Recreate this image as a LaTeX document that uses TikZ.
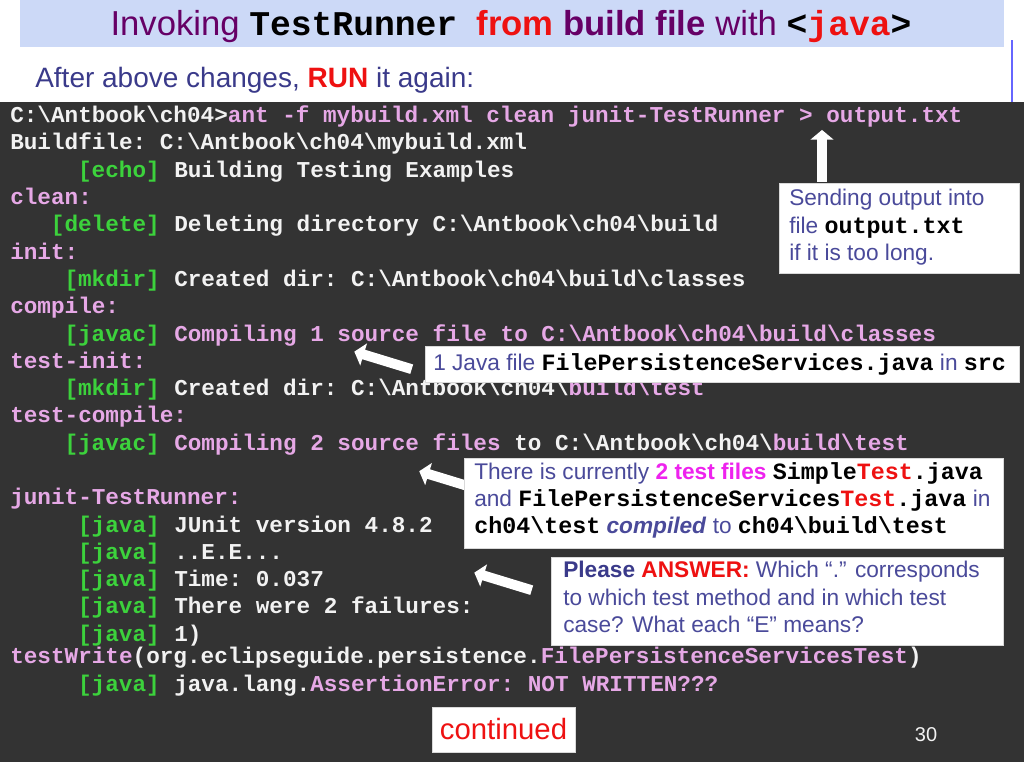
\documentclass[tikz,border=0pt]{standalone}
\usepackage{fontspec}
\setmainfont{Liberation Sans}
\setmonofont{Liberation Mono}[BoldFont={Liberation Mono Bold}]
\usetikzlibrary{shapes.arrows}
\definecolor{termbg}{HTML}{333333}
\definecolor{tpink}{HTML}{E6A8E6}
\definecolor{tgreen}{HTML}{3CD23C}
\definecolor{twhite}{HTML}{F2F2F2}
\definecolor{ttl}{HTML}{CCD9F7}
\definecolor{purp}{HTML}{660066}
\definecolor{blu}{HTML}{4A4A9A}
\definecolor{nav}{HTML}{3A3A8A}
\definecolor{rd}{HTML}{EE1111}
\definecolor{mag}{HTML}{EE22EE}
\newcommand{\bs}{\textbackslash}
\newcommand{\mt}[1]{{\ttfamily\bfseries #1}}
\newcommand{\bm}[1]{{\fontsize{17.5}{20}\ttfamily\bfseries\color{black}#1}}
\begin{document}
\begin{tikzpicture}[x=0.75pt,y=-0.75pt,
  ln/.style={anchor=base west,inner sep=0,font=\fontsize{17}{20}\ttfamily\bfseries,text=twhite},
  tag/.style={anchor=base east,inner sep=0,font=\fontsize{17}{20}\ttfamily\bfseries,text=tgreen},
  wbox/.style={fill=white,draw=white!85!black,line width=0.8pt,anchor=north west,inner sep=0},
  btext/.style={anchor=north west,align=left,inner sep=0,font=\fontsize{17}{20.5}\selectfont,text=blu},
  barrow/.style={single arrow,fill=white,draw=none,minimum height=#1,single arrow head extend=5pt,single arrow tip angle=100,inner sep=3.5pt}]
\useasboundingbox (0,0) rectangle (1024,768);
\fill[white] (0,0) rectangle (1024,768);
\draw[blue!60!white,line width=0.8pt] (1012,40) -- (1012,102);
\node[fill=ttl,minimum width=984*0.75pt,minimum height=47*0.75pt,anchor=north west,inner sep=0] (title) at (20,0) {};
\node[anchor=base,inner sep=0,font=\fontsize{26}{28}\selectfont,text=purp] (tt) at (511,35)
 {Invoking \mt{\fontsize{26}{28}\selectfont\color{black}TestRunner}\ \ \textbf{\color{rd}from} \textbf{build file} with \mt{\fontsize{26}{28}\selectfont\color{black}<\color{rd}java\color{black}>}};
\node[anchor=base west,inner sep=0,font=\fontsize{21}{24}\selectfont,text=nav] (sub) at (35,87) {After above changes, \textbf{\color{rd}RUN} it again:};
\fill[termbg] (0,102) rectangle (1024,762);
% terminal lines
\node[ln] (l1) at (10,122) {C:\bs Antbook\bs ch04>\color{tpink}ant -f mybuild.xml clean junit-TestRunner > output.txt};
\node[ln] (l2) at (10,149) {Buildfile: C:\bs Antbook\bs ch04\bs mybuild.xml};
\node[tag] (g3) at (160,177) {[echo]};
\node[ln] (l3) at (174,177) {Building Testing Examples};
\node[ln,text=tpink] (l4) at (10,204) {clean:};
\node[tag] (g5) at (160,231) {[delete]};
\node[ln] (l5) at (174,231) {Deleting directory C:\bs Antbook\bs ch04\bs build};
\node[ln,text=tpink] (l6) at (10,259) {init:};
\node[tag] (g7) at (160,286) {[mkdir]};
\node[ln] (l7) at (174,286) {Created dir: C:\bs Antbook\bs ch04\bs build\bs classes};
\node[ln,text=tpink] (l8) at (10,313) {compile:};
\node[tag] (g9) at (160,341) {[javac]};
\node[ln,text=tpink] (l9) at (174,341) {Compiling 1 source file to C:\bs Antbook\bs ch04\bs build\bs classes};
\node[ln,text=tpink] (l10) at (10,368) {test-init:};
\node[tag] (g11) at (160,395) {[mkdir]};
\node[ln] (l11) at (174,395) {Created dir: C:\bs Antbook\bs ch04\bs\color{tpink}build\bs test};
\node[ln,text=tpink] (l12) at (10,422) {test-compile:};
\node[tag] (g13) at (160,450) {[javac]};
\node[ln] (l13) at (174,450) {\color{tpink}Compiling 2 source files\color{twhite}\ to C:\bs Antbook\bs ch04\bs\color{tpink}build\bs test};
\node[ln,text=tpink] (l14) at (10,504) {junit-TestRunner:};
\node[tag] (g15) at (160,532) {[java]};
\node[ln] (l15) at (174,532) {JUnit version 4.8.2};
\node[tag] (g16) at (160,559) {[java]};
\node[ln] (l16) at (174,559) {..E.E...};
\node[tag] (g17) at (160,586) {[java]};
\node[ln] (l17) at (174,586) {Time: 0.037};
\node[tag] (g18) at (160,613) {[java]};
\node[ln] (l18) at (174,613) {There were 2 failures:};
\node[tag] (g19) at (160,641) {[java]};
\node[ln] (l19) at (174,641) {1)};
\node[ln] (l20) at (10,663) {\color{tpink}testWrite\color{twhite}(org.eclipseguide.persistence.\color{tpink}FilePersistenceServicesTest\color{twhite})};
\node[tag] (g21) at (160,691) {[java]};
\node[ln] (l21) at (174,691) {java.lang.\color{tpink}AssertionError: NOT WRITTEN???};
% arrows
\node[barrow=52*0.75pt,minimum width=18*0.75pt,rotate=90] (a1) at (822,158) {};
\node[barrow=60*0.75pt,minimum width=14*0.75pt,rotate=163] (a2) at (385,361) {};
\node[barrow=56*0.75pt,minimum width=14*0.75pt,rotate=163] (a3) at (448,480) {};
\node[barrow=60*0.75pt,minimum width=14*0.75pt,rotate=163] (a4) at (505,582) {};
% boxes
\node[wbox,minimum width=240*0.75pt,minimum height=90*0.75pt] (b1) at (779,183) {};
\node[btext] (b1t) at (789,189)
 {Sending output into\\ file \bm{output.txt}\\ if it is too long.};
\node[wbox,minimum width=594*0.75pt,minimum height=36*0.75pt] (b2) at (425,346) {};
\node[anchor=base west,inner sep=0,font=\fontsize{17}{20}\selectfont,text=blu] (b2t) at (433,370)
 {1 Java file \bm{FilePersistenceServices.java} in \bm{src}};
\node[wbox,minimum width=539*0.75pt,minimum height=90*0.75pt] (b3) at (464,458) {};
\node[btext] (b3t) at (474,462)
 {There is currently \textbf{\color{mag}2 test files} \bm{Simple\color{rd}Test\color{black}.java}\\
  and \bm{FilePersistenceServices\color{rd}Test\color{black}.java} in\\
  \bm{ch04\bs test} \textbf{\textit{compiled}} to \bm{ch04\bs build\bs test}};
\node[wbox,minimum width=452*0.75pt,minimum height=88*0.75pt] (b4) at (551,557) {};
\node[btext] (b4t) at (563,561)
 {\textbf{\color{nav}Please \color{rd}ANSWER:} Which “.” corresponds\\ to which test method and in which test\\ case? What each “E” means?};
\node[wbox,minimum width=143*0.75pt,minimum height=45*0.75pt] (b5) at (432,707) {};
\node[inner sep=0,font=\fontsize{22}{26}\selectfont,text=rd] (b5t) at (503.5,729) {continued};
\node[inner sep=0,font=\fontsize{15}{18}\selectfont,text=twhite] (pg) at (926,735) {30};
\end{tikzpicture}
\end{document}
